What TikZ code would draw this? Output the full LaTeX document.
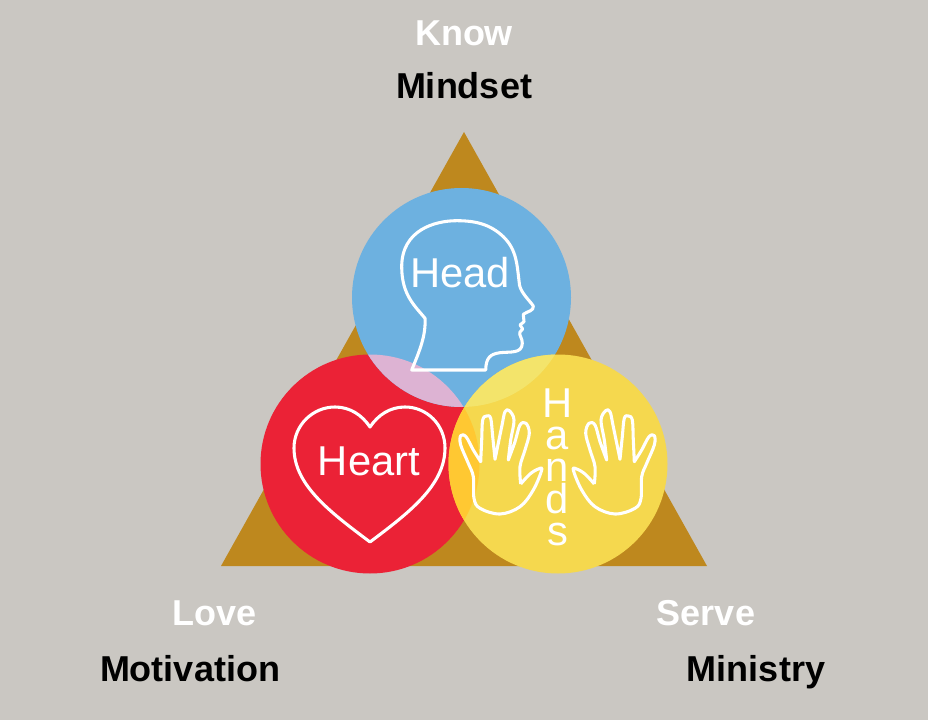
\documentclass[tikz,border=0pt]{standalone}
\usepackage{fontspec}
\setmainfont{Liberation Sans}
\definecolor{bgcol}{HTML}{CAC7C2}
\definecolor{triacol}{HTML}{BE881E}
\definecolor{headcol}{HTML}{6DB1E0}
\definecolor{heartcol}{HTML}{EB2236}
\definecolor{handscol}{HTML}{F5D84E}
\definecolor{pinkcol}{HTML}{DDB3D3}
\definecolor{limecol}{HTML}{F3E46B}
\definecolor{orangecol}{HTML}{FFC832}
\tikzset{
  outline/.style={draw=white, line width=2.3pt, line join=round},
  bigword/.style={white, anchor=base, inner sep=0pt, font=\fontsize{31.3}{34}\selectfont},
  whitelabel/.style={white, anchor=base, font=\fontsize{27}{30}\selectfont\bfseries},
  blacklabel/.style={black, anchor=base, font=\fontsize{27}{30}\selectfont\bfseries}
}
\begin{document}
\begin{tikzpicture}[x=0.75pt, y=-0.75pt]
    % Sfondo
    \fill[bgcol] (0,0) rectangle (928,720);
    \useasboundingbox (0,0) rectangle (928,720);

    % Triangolo
    \fill[triacol] (464,132) -- (707,566) -- (221,566) -- cycle;

    % Cerchi
    \coordinate (chead) at (461.5,297.5);
    \coordinate (cheart) at (370,464);
    \coordinate (chands) at (558,464);
    \fill[heartcol] (cheart) circle (109.5);
    \fill[headcol] (chead) circle (109.5);
    \fill[handscol] (chands) circle (109.5);

    % Intersezioni
    \begin{scope}
        \clip (chead) circle (109.5);
        \fill[pinkcol] (cheart) circle (109.5);
        \fill[limecol] (chands) circle (109.5);
    \end{scope}
    \begin{scope}
        \clip (cheart) circle (109.5);
        \fill[orangecol] (chands) circle (109.5);
    \end{scope}

    % Testa
    \draw[outline] (411.7,370) -- (485.7,370)
        .. controls (486,358) and (490,354) .. (500,352.7)
        .. controls (510,351.5) and (522,354) .. (522.3,343.3)
        .. controls (522.5,338) and (518.5,335) .. (520,332)
        -- (522.7,329) -- (520,325) -- (524,321.7) -- (523.3,314.3)
        .. controls (528,311) and (534,311) .. (533.3,306)
        .. controls (530,301) and (521,293) .. (519.5,285)
        .. controls (517,265) and (517,250) .. (503.3,236.7)
        .. controls (490,224) and (475,220.7) .. (456.7,220.7)
        .. controls (435,220.7) and (401.7,230) .. (401.7,266.7)
        .. controls (401.7,295) and (415,306) .. (425,318.3)
        .. controls (426,335) and (420,350) .. (411.7,370) -- cycle;
    \node[bigword] (headword) at (460,287) {Head};

    % Cuore
    \draw[outline] (370,542)
        .. controls (330,512) and (294,485) .. (294,448)
        .. controls (294,425) and (313,407) .. (335,407)
        .. controls (350,407) and (362,415) .. (370,427)
        .. controls (378,415) and (390,407) .. (405,407)
        .. controls (427,407) and (445,425) .. (445,448)
        .. controls (445,485) and (410,512) .. (370,542) -- cycle;
    \node[bigword] (heartword) at (369,475) {Heart};

    % Mani
    \foreach \flip/\shift in {1/0, -1/1115} {
        \begin{scope}[xshift=\shift*0.75pt, xscale=\flip]
            \draw[outline] plot[smooth, tension=0.6] coordinates {(520.7,484) (520,466.7) (525,450) (529.3,433.3) (526,423.3) (520,425) (515,441.7) (508.3,460)}
                -- plot[smooth, tension=0.6] coordinates {(508.3,460) (510.7,440) (514,420) (509.3,410.7) (505,411.7) (501.7,426.7) (495,459.3)}
                -- plot[smooth, tension=0.6] coordinates {(495,459.3) (492.7,436.7) (490.7,418.3) (486.7,416) (482.7,420) (481.7,440) (480.7,461.7)}
                -- plot[smooth, tension=0.6] coordinates {(480.7,461.7) (473.3,450) (466,436.7) (460.7,435.7) (460.7,445) (468.3,463.3) (473.3,476.7) (474,498.3) (480,508.3) (500,514) (520,506.7) (533.3,490) (541.7,470) (538.3,469) (530,474) (520.7,484)};
        \end{scope}
    }
    \node[white, inner sep=0pt, align=center, font=\fontsize{31.3}{24}\selectfont] (handsword) at (557.5,467.5) {H\\a\\n\\d\\s};

    % Etichette
    \node[whitelabel] (know) at (464,46) {Know};
    \node[blacklabel] (mindset) at (464,99) {Mindset};
    \node[whitelabel] (love) at (215,625) {Love};
    \node[blacklabel] (motivation) at (190,681) {Motivation};
    \node[whitelabel] (serve) at (706,625) {Serve};
    \node[blacklabel] (ministry) at (756,681) {Ministry};
\end{tikzpicture}
\end{document}
